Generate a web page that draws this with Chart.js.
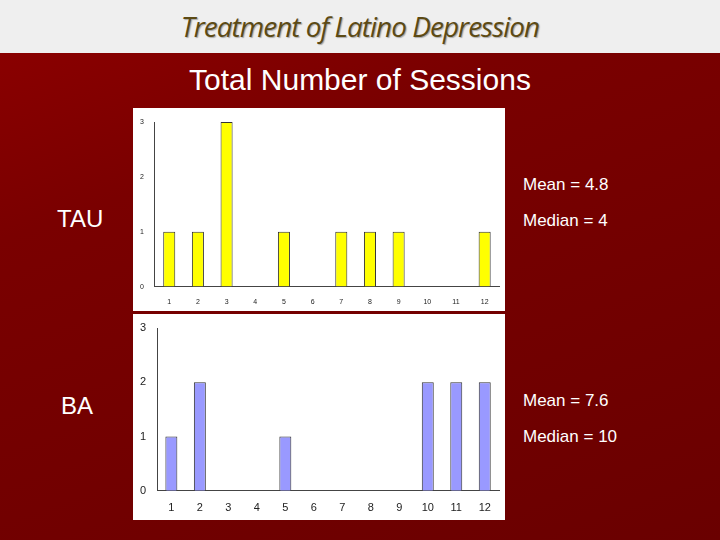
<!DOCTYPE html>
<html><head><meta charset="utf-8">
<script src="https://cdn.jsdelivr.net/npm/chart.js@4"></script>
<style>
body{margin:0;width:720px;height:540px;overflow:hidden;font-family:"Liberation Sans",Arial,sans-serif;
 background:linear-gradient(160deg,#8e0000 0%,#7a0000 30%,#6a0000 100%);position:relative}
#hdr{position:absolute;left:0;top:0;width:720px;height:53px;background:#efefef;}
#hdr div{text-align:center;font-family:"Open Sans",sans-serif;font-style:italic;font-size:28px;color:#5c4a14;line-height:52px;text-shadow:1px 1px 1px #aaa;letter-spacing:-1px}
.t{position:absolute;color:#fff}
.box{position:absolute;left:133px;width:372px;background:#fff}
</style></head><body>
<div id="hdr"><div>Treatment of Latino Depression</div></div>
<div class="t" style="left:0;width:720px;text-align:center;top:63px;font-size:30px">Total Number of Sessions</div>
<div class="t" style="left:57px;top:205px;font-size:24px">TAU</div>
<div class="t" style="left:61px;top:392px;font-size:24px">BA</div>
<div class="t" style="left:523px;top:175px;font-size:17px">Mean = 4.8</div>
<div class="t" style="left:523px;top:211px;font-size:17px">Median = 4</div>
<div class="t" style="left:523px;top:391px;font-size:17px">Mean = 7.6</div>
<div class="t" style="left:523px;top:427px;font-size:17px">Median = 10</div>
<div class="box" style="top:108px;height:203px"><canvas id="c1"></canvas></div>
<div class="box" style="top:314px;height:206px"><canvas id="c2"></canvas></div>
<script>
const sessions = ['1','2','3','4','5','6','7','8','9','10','11','12'];
const tauCounts = [1,1,3,0,1,0,1,1,1,0,0,1];
const baCounts = [1,2,0,0,1,0,0,0,0,2,2,2];
const yTicks = [0,1,2,3];

function makeChart(id, data, color, fontSize) {
  new Chart(document.getElementById(id), {
    type: 'bar',
    data: { labels: sessions, datasets: [{ data: data, backgroundColor: color, borderColor: '#333', borderWidth: 1, barPercentage: 0.42, categoryPercentage: 1 }] },
    options: {
      responsive: true, maintainAspectRatio: false, animation: false,
      layout: { padding: { top: 14, right: 6, left: 4, bottom: 2 } },
      plugins: { legend: { display: false }, tooltip: { enabled: false } },
      scales: {
        x: { grid: { display: false }, border: { color: '#444' },
             ticks: { color: '#222', font: { size: fontSize } } },
        y: { min: 0, max: 3, afterBuildTicks: a => { a.ticks = yTicks.map(v => ({ value: v })); },
             grid: { display: false }, border: { color: '#444' },
             ticks: { color: '#222', font: { size: fontSize } } }
      }
    }
  });
}
makeChart('c1', tauCounts, '#ffff00', 7);
makeChart('c2', baCounts, '#9999ff', 11);
</script>
</body></html>
